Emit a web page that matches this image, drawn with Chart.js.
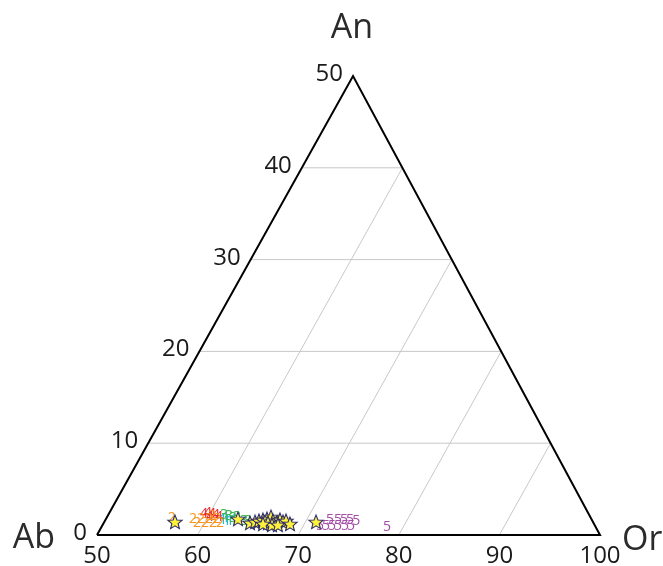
<!DOCTYPE html>
<html>
<head>
<meta charset="utf-8">
<script src="https://cdn.jsdelivr.net/npm/chart.js@4/dist/chart.umd.min.js"></script>
<style>
  html, body { margin: 0; padding: 0; background: #fff; }
  canvas { display: block; }
</style>
</head>
<body>
<canvas id="c" width="663" height="566"></canvas>
<script>
// ---- axis ticks ----
const bottomTicks = [50, 60, 70, 80, 90, 100];
const anTicks = [0, 10, 20, 30, 40, 50];
const gridBottom = [60, 70, 80, 90];
const gridAn = [10, 20, 30, 40];
const cornerNames = ['Ab', 'An', 'Or'];

// ---- data (bottom-axis value, An value) ----
const s2Bottom = [56.5, 58.65, 59.27, 59.45, 60.07, 60.24, 60.86, 61.04, 61.56, 60.37];
const s2An     = [1.85, 1.74, 1.31, 1.74, 1.31, 1.74, 1.31, 1.74, 1.31, 2.07];
const s4Bottom = [59.47, 59.81, 60.26, 60.72, 61.13, 60.23];
const s4An     = [2.29, 2.40, 2.29, 2.18, 1.96, 1.96];
const s3Bottom = [61.51, 62.06, 62.58, 62.92, 63.83, 64.23];
const s3An     = [2.18, 2.07, 1.85, 1.96, 1.52, 1.52];
const s1Bottom = [61.69, 62.14, 62.44, 62.79, 61.88];
const s1An     = [1.63, 1.52, 1.52, 1.63, 1.85];
const s5Bottom = [72.32, 73.12, 73.71, 74.31, 75.0, 71.67, 72.26, 72.86, 73.46, 74.15, 74.75, 78.39];
const s5An     = [1.64, 1.64, 1.64, 1.64, 1.53, 0.98, 0.98, 0.98, 0.98, 0.98, 0.98, 0.87];
const starBottom = [57.03, 63.13, 71.05, 64.54, 64.99, 65.32, 65.66, 66.01, 66.30, 66.71, 67.22, 67.35, 67.77, 68.01, 68.57, 66.33, 66.84, 67.43, 65.89];
const starAn     = [1.42, 1.74, 1.42, 1.31, 1.42, 1.53, 1.64, 1.74, 1.96, 1.53, 1.31, 1.64, 1.42, 1.53, 1.20, 1.31, 1.09, 1.09, 1.20];

// ---- geometry of the (slightly stretched) triangle ----
const apexX = 75.45;
const kL = (apexX - 50) / 50;
const kR = (100 - apexX) / 50;

function toXY(b, a) { return { x: b + kL * a, y: a }; }
function pts(bArr, aArr) { return bArr.map((b, i) => toXY(b, aArr[i])); }

const GRID = '#c8c8c8';
const INK = '#1a1a1a';

const datasets = [];
gridAn.forEach(a => {
  datasets.push({ data: [toXY(50, a), { x: 100 - kR * a, y: a }], showLine: true,
    borderColor: GRID, borderWidth: 1, pointRadius: 0, fill: false, order: 10, clip: false });
});
gridBottom.forEach(b => {
  datasets.push({ data: [toXY(b, 0), toXY(b, 100 - b)], showLine: true,
    borderColor: GRID, borderWidth: 1, pointRadius: 0, fill: false, order: 10, clip: false });
});
datasets.push({ data: [toXY(50, 0), { x: 100, y: 0 }, toXY(50, 50), toXY(50, 0)], showLine: true,
  borderColor: '#000', borderWidth: 2, pointRadius: 0, fill: false, order: 8, clip: false });

const labelGroups = [
  { text: '2', color: '#f7941d', b: s2Bottom, a: s2An },
  { text: '4', color: '#e8242d', b: s4Bottom, a: s4An },
  { text: '3', color: '#39b54a', b: s3Bottom, a: s3An },
  { text: '1', color: '#1cb5c9', b: s1Bottom, a: s1An },
  { text: '5', color: '#a44ea8', b: s5Bottom, a: s5An }
];
labelGroups.forEach(g => {
  datasets.push({ data: pts(g.b, g.a), showLine: false, pointRadius: 0, pointHoverRadius: 0,
    labelText: g.text, labelColor: g.color, order: 3, clip: false });
});

const star = document.createElement('canvas');
star.width = 18; star.height = 18;
(function () {
  const c = star.getContext('2d');
  c.beginPath();
  for (let i = 0; i < 10; i++) {
    const r = i % 2 === 0 ? 7.5 : 3.3;
    const ang = -Math.PI / 2 + i * Math.PI / 5;
    const px = 9 + r * Math.cos(ang), py = 9.6 + r * Math.sin(ang);
    if (i === 0) c.moveTo(px, py); else c.lineTo(px, py);
  }
  c.closePath();
  c.fillStyle = '#fff23a';
  c.fill();
  c.lineWidth = 1.1;
  c.strokeStyle = '#2b2a6b';
  c.stroke();
})();
datasets.push({ data: pts(starBottom, starAn), showLine: false, pointStyle: star,
  pointRadius: 8, pointHoverRadius: 8, order: 1, clip: false });

const FONT = '"Open Sans", "DejaVu Sans", sans-serif';

const ternaryPlugin = {
  id: 'ternary',
  afterDatasetDraw(chart, args) {
    const ds = chart.data.datasets[args.index];
    if (!ds.labelText) return;
    const ctx = chart.ctx;
    ctx.save();
    ctx.font = '14px ' + FONT;
    ctx.fillStyle = ds.labelColor;
    ctx.textAlign = 'center';
    ctx.textBaseline = 'middle';
    args.meta.data.forEach(el => ctx.fillText(ds.labelText, el.x, el.y));
    ctx.restore();
  },
  afterDraw(chart) {
    const ctx = chart.ctx;
    const xs = chart.scales.x, ys = chart.scales.y;
    ctx.save();
    ctx.fillStyle = INK;
    ctx.font = '24px ' + FONT;
    ctx.textBaseline = 'alphabetic';
    ctx.textAlign = 'center';
    const y0 = ys.getPixelForValue(0);
    bottomTicks.forEach(v => ctx.fillText(String(v), xs.getPixelForValue(v), y0 + 28));
    ctx.textAlign = 'right';
    anTicks.forEach(v => {
      const p = toXY(50, v);
      ctx.fillText(String(v), xs.getPixelForValue(p.x) - 10, ys.getPixelForValue(p.y) + 5);
    });
    ctx.font = '34px ' + FONT;
    ctx.fillStyle = '#2b2b2b';
    ctx.textAlign = 'right';
    ctx.fillText(cornerNames[0], xs.getPixelForValue(50) - 42, y0 + 13);
    ctx.textAlign = 'center';
    const ap = toXY(50, 50);
    ctx.fillText(cornerNames[1], xs.getPixelForValue(ap.x) - 1, ys.getPixelForValue(50) - 38);
    ctx.textAlign = 'left';
    ctx.fillText(cornerNames[2], xs.getPixelForValue(100) + 22, y0 + 15);
    ctx.restore();
  }
};

new Chart(document.getElementById('c'), {
  type: 'scatter',
  data: { datasets },
  options: {
    responsive: false,
    animation: false,
    devicePixelRatio: 1,
    events: [],
    layout: { padding: { left: 97, right: 63, top: 76, bottom: 31 } },
    scales: {
      x: { type: 'linear', min: 50, max: 100, display: false },
      y: { type: 'linear', min: 0, max: 50, display: false }
    },
    plugins: { legend: { display: false }, tooltip: { enabled: false } }
  },
  plugins: [ternaryPlugin]
});
</script>
</body>
</html>
